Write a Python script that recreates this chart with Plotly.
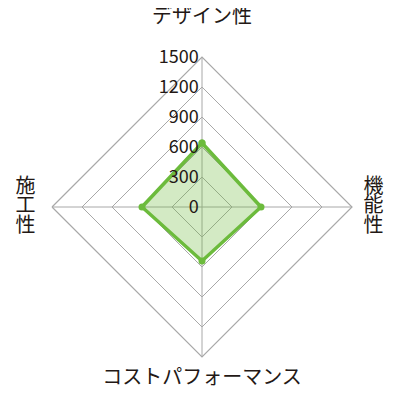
import plotly.graph_objects as go

categories = ['デザイン性', '機能性', 'コストパフォーマンス', '施工性']
tick_labels = ['デザイン性<br> ', '機<br>能<br>性', 'コストパフォーマンス',
               '施\u2005<br>工\u2005<br>性\u2005']
values = [640, 590, 540, 600]
radial_ticks = [0, 300, 600, 900, 1200, 1500]

green = '#6cbb3c'
grid = '#a8a8a8'
jp_font = 'Noto Sans CJK JP'


def big(label):
    # keep the glyphs at 20px while the line pitch follows the smaller base font
    return '<br>'.join('<span style="font-size:20px">%s</span>' % part for part in label.split('<br>'))


fig = go.Figure()
fig.add_trace(go.Scatterpolar(r=values + values[:1], theta=categories + categories[:1],
                              mode='lines+markers',
                              fill='toself', fillcolor='rgba(108,187,60,0.3)',
                              line=dict(color=green, width=3.5),
                              marker=dict(color=green, size=7),
                              hoverinfo='r+theta'))

fig.update_layout(
    width=400, height=400,
    margin=dict(l=44, r=56, t=49, b=51),
    paper_bgcolor='white',
    showlegend=False,
    polar=dict(
        bgcolor='white',
        gridshape='linear',
        domain=dict(x=[0, 1], y=[0, 1]),
        radialaxis=dict(range=[0, 1500], tickvals=radial_ticks,
                        ticktext=[str(v) for v in radial_ticks],
                        angle=90, tickangle=90, side='counterclockwise',
                        showline=False, ticks='',
                        gridcolor=grid, gridwidth=1.2,
                        tickfont=dict(family=jp_font, size=18, color='#231815')),
        angularaxis=dict(rotation=90, direction='clockwise',
                         tickvals=categories, ticktext=[big(t) for t in tick_labels],
                         showline=True, linecolor=grid, linewidth=1.2,
                         ticks='outside', ticklen=8,
                         tickcolor='rgba(0,0,0,0)',
                         gridcolor=grid, gridwidth=1.2,
                         tickfont=dict(family=jp_font, size=15, color='#231815')),
    ),
)

fig.write_html("out.html")
